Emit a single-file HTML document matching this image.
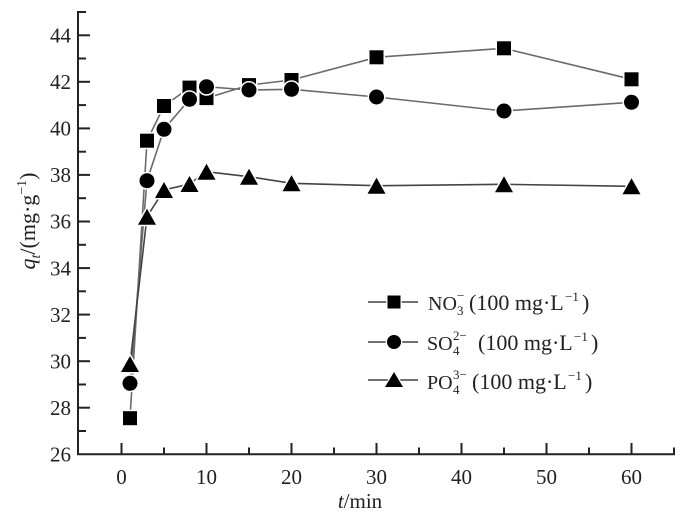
<!DOCTYPE html>
<html><head><meta charset="utf-8"><style>
html,body{margin:0;padding:0;background:#fff;}
svg{display:block;}
text{font-family:"Liberation Serif",serif;fill:#222;}
</style></head><body>
<svg width="689" height="522" viewBox="0 0 689 522" xmlns="http://www.w3.org/2000/svg">
<rect width="689" height="522" fill="#fff"/>
<!-- axes -->
<g stroke="#222" stroke-width="2" fill="none">
<line x1="78" y1="11" x2="78" y2="455"/>
<line x1="77" y1="454.3" x2="675" y2="454.3"/>
<line x1="78" y1="407.7" x2="90" y2="407.7"/>
<line x1="78" y1="361.2" x2="90" y2="361.2"/>
<line x1="78" y1="314.6" x2="90" y2="314.6"/>
<line x1="78" y1="268.1" x2="90" y2="268.1"/>
<line x1="78" y1="221.5" x2="90" y2="221.5"/>
<line x1="78" y1="174.9" x2="90" y2="174.9"/>
<line x1="78" y1="128.4" x2="90" y2="128.4"/>
<line x1="78" y1="81.8" x2="90" y2="81.8"/>
<line x1="78" y1="35.3" x2="90" y2="35.3"/>
<line x1="78" y1="431.0" x2="86" y2="431.0"/>
<line x1="78" y1="384.5" x2="86" y2="384.5"/>
<line x1="78" y1="337.9" x2="86" y2="337.9"/>
<line x1="78" y1="291.3" x2="86" y2="291.3"/>
<line x1="78" y1="244.8" x2="86" y2="244.8"/>
<line x1="78" y1="198.2" x2="86" y2="198.2"/>
<line x1="78" y1="151.7" x2="86" y2="151.7"/>
<line x1="78" y1="105.1" x2="86" y2="105.1"/>
<line x1="78" y1="58.5" x2="86" y2="58.5"/>
<line x1="78" y1="12.0" x2="86" y2="12.0"/>
<line x1="121.5" y1="454.3" x2="121.5" y2="443"/>
<line x1="206.5" y1="454.3" x2="206.5" y2="443"/>
<line x1="291.5" y1="454.3" x2="291.5" y2="443"/>
<line x1="376.5" y1="454.3" x2="376.5" y2="443"/>
<line x1="461.5" y1="454.3" x2="461.5" y2="443"/>
<line x1="546.5" y1="454.3" x2="546.5" y2="443"/>
<line x1="631.5" y1="454.3" x2="631.5" y2="443"/>
<line x1="164" y1="454.3" x2="164" y2="447.5"/>
<line x1="249" y1="454.3" x2="249" y2="447.5"/>
<line x1="334" y1="454.3" x2="334" y2="447.5"/>
<line x1="419" y1="454.3" x2="419" y2="447.5"/>
<line x1="504" y1="454.3" x2="504" y2="447.5"/>
<line x1="589" y1="454.3" x2="589" y2="447.5"/>
<line x1="674" y1="454.3" x2="674" y2="447.5"/>
</g>
<!-- y tick labels -->
<g font-size="21" text-anchor="end">
<text x="71" y="461.5">26</text>
<text x="71" y="414.9">28</text>
<text x="71" y="368.4">30</text>
<text x="71" y="321.8">32</text>
<text x="71" y="275.3">34</text>
<text x="71" y="228.7">36</text>
<text x="71" y="182.1">38</text>
<text x="71" y="135.6">40</text>
<text x="71" y="89.0">42</text>
<text x="71" y="42.5">44</text>
</g>
<!-- x tick labels -->
<g font-size="21" text-anchor="middle">
<text x="121.5" y="484">0</text>
<text x="206.5" y="484">10</text>
<text x="291.5" y="484">20</text>
<text x="376.5" y="484">30</text>
<text x="461.5" y="484">40</text>
<text x="546.5" y="484">50</text>
<text x="631.5" y="484">60</text>
</g>
<text x="360" y="508" font-size="21" text-anchor="middle"><tspan font-style="italic">t</tspan>/min</text>
<text transform="translate(35,221) rotate(-90)" font-size="22" text-anchor="middle"><tspan font-style="italic">q</tspan><tspan font-style="italic" font-size="14" dy="5">t</tspan><tspan dy="-5">/(mg·g</tspan><tspan font-size="14" dy="-9">−1</tspan><tspan dy="9">)</tspan></text>

<!-- series lines -->
<g stroke="#6a6a6a" stroke-width="1.6" fill="none">
<polyline points="130,418.2 147,140.7 164,106 189.5,87.6 206.5,98.1 249,85.1 291.5,80 376.5,57.3 504,48.3 631.5,79.3"/>
<polyline points="130,383.3 147,180.7 164,129.3 189.5,99.3 206.5,86.7 249,90 291.5,89.3 376.5,97 504,111 631.5,102.3"/>
<polyline points="130,364 147,216.7 164,190 189.5,184 206.5,171.7 249,176.7 291.5,183.3 376.5,185.7 504,184.3 631.5,186.3" stroke="#444"/>
</g>
<g fill="#000" stroke="#fff" stroke-width="3" paint-order="stroke">
<rect x="123" y="411.2" width="14" height="14"/>
<rect x="140" y="133.7" width="14" height="14"/>
<rect x="157" y="99" width="14" height="14"/>
<rect x="182.5" y="80.6" width="14" height="14"/>
<rect x="199.5" y="91.1" width="14" height="14"/>
<rect x="242" y="78.1" width="14" height="14"/>
<rect x="284.5" y="73" width="14" height="14"/>
<rect x="369.5" y="50.3" width="14" height="14"/>
<rect x="497" y="41.3" width="14" height="14"/>
<rect x="624.5" y="72.3" width="14" height="14"/>
<circle cx="130" cy="383.3" r="7.5"/>
<circle cx="147" cy="180.7" r="7.5"/>
<circle cx="164" cy="129.3" r="7.5"/>
<circle cx="189.5" cy="99.3" r="7.5"/>
<circle cx="206.5" cy="86.7" r="7.5"/>
<circle cx="249" cy="90" r="7.5"/>
<circle cx="291.5" cy="89.3" r="7.5"/>
<circle cx="376.5" cy="97" r="7.5"/>
<circle cx="504" cy="111" r="7.5"/>
<circle cx="631.5" cy="102.3" r="7.5"/>
<polygon points="121,372 139,372 130,356"/>
<polygon points="138,224.7 156,224.7 147,208.7"/>
<polygon points="155,198 173,198 164,182"/>
<polygon points="180.5,192 198.5,192 189.5,176"/>
<polygon points="197.5,179.7 215.5,179.7 206.5,163.7"/>
<polygon points="240,184.7 258,184.7 249,168.7"/>
<polygon points="282.5,191.3 300.5,191.3 291.5,175.3"/>
<polygon points="367.5,193.7 385.5,193.7 376.5,177.7"/>
<polygon points="495,192.3 513,192.3 504,176.3"/>
<polygon points="622.5,194.3 640.5,194.3 631.5,178.3"/>
</g>

<!-- legend -->
<g stroke="#444" stroke-width="1.6">
<line x1="368" y1="302" x2="418" y2="302"/>
<line x1="368" y1="342" x2="418" y2="342"/>
<line x1="368" y1="380" x2="418" y2="380"/>
</g>
<g fill="#000" stroke="#fff" stroke-width="2.5" paint-order="stroke">
<rect x="387.5" y="295.5" width="13" height="13"/>
<circle cx="394" cy="342" r="7"/>
<polygon points="385,387 403,387 394,372"/>
</g>
<g font-size="20">
<!-- row 1 -->
<text x="428" y="310">NO</text>
<text x="457" y="315" font-size="13">3</text>
<text x="457" y="300" font-size="13">−</text>
<text x="469" y="310" font-size="22">(100 mg·L</text>
<text x="565" y="301" font-size="13">−1</text>
<text x="582" y="310" font-size="22">)</text>
<!-- row 2 -->
<text x="427" y="350">SO</text>
<text x="453" y="355" font-size="13">4</text>
<text x="453" y="340" font-size="13">2−</text>
<text x="478" y="350" font-size="22">(100 mg·L</text>
<text x="574" y="341" font-size="13">−1</text>
<text x="591" y="350" font-size="22">)</text>
<!-- row 3 -->
<text x="427" y="389">PO</text>
<text x="453" y="394" font-size="13">4</text>
<text x="453" y="379" font-size="13">3−</text>
<text x="472" y="389" font-size="22">(100 mg·L</text>
<text x="568" y="380" font-size="13">−1</text>
<text x="585" y="389" font-size="22">)</text>
</g>
</svg>
</body></html>
